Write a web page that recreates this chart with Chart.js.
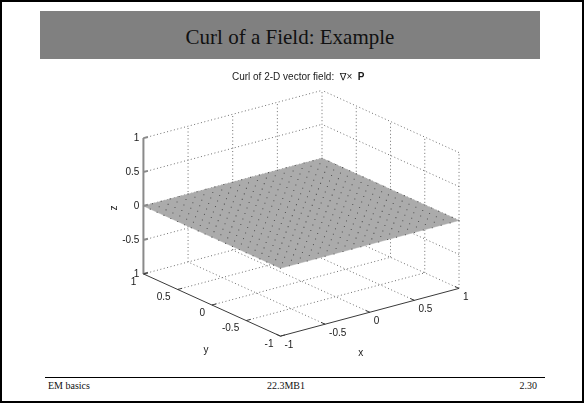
<!DOCTYPE html>
<html>
<head>
<meta charset="utf-8">
<script src="https://cdn.jsdelivr.net/npm/chart.js@4/dist/chart.umd.min.js"></script>
<style>
  html, body { margin: 0; padding: 0; background: #fff; }
  .abs { position: absolute; }
  #frame { left: 0; top: 0; width: 584px; height: 403px; box-sizing: border-box; border: 2px solid #000; }
  #head { left: 40px; top: 11px; width: 500px; height: 48px; background: #808080; color: #111;
          font: 21px "Liberation Serif", "Times New Roman", serif; text-align: center;
          line-height: 48px; padding-top: 2px; box-sizing: border-box; }
  #rule { left: 45px; top: 377px; width: 500px; height: 1px; background: #000; }
  .foot { top: 380px; font: 10px "Liberation Serif", "Times New Roman", serif; line-height: 12px; color: #111; }
  #plot { left: 0; top: 0; }
</style>
</head>
<body>
<div id="frame" class="abs"></div>
<div id="head" class="abs">Curl of a Field: Example</div>
<div id="rule" class="abs"></div>
<div class="abs foot" style="left:48px">EM basics</div>
<div class="abs foot" style="left:186px;width:200px;text-align:center">22.3MB1</div>
<div class="abs foot" style="left:437px;width:100px;text-align:right">2.30</div>
<canvas id="plot" class="abs" width="584" height="403"></canvas>
<script>
// MATLAB default 3-D view
const viewAz = -37.5;
const viewEl = 30;

// surface grid (meshgrid -1:0.1:1) and the curl values on it
const gridVals = [-1, -0.9, -0.8, -0.7, -0.6, -0.5, -0.4, -0.3, -0.2, -0.1, 0,
                  0.1, 0.2, 0.3, 0.4, 0.5, 0.6, 0.7, 0.8, 0.9, 1];
const curlZ = [
  [0,0,0,0,0,0,0,0,0,0,0,0,0,0,0,0,0,0,0,0,0],
  [0,0,0,0,0,0,0,0,0,0,0,0,0,0,0,0,0,0,0,0,0],
  [0,0,0,0,0,0,0,0,0,0,0,0,0,0,0,0,0,0,0,0,0],
  [0,0,0,0,0,0,0,0,0,0,0,0,0,0,0,0,0,0,0,0,0],
  [0,0,0,0,0,0,0,0,0,0,0,0,0,0,0,0,0,0,0,0,0],
  [0,0,0,0,0,0,0,0,0,0,0,0,0,0,0,0,0,0,0,0,0],
  [0,0,0,0,0,0,0,0,0,0,0,0,0,0,0,0,0,0,0,0,0],
  [0,0,0,0,0,0,0,0,0,0,0,0,0,0,0,0,0,0,0,0,0],
  [0,0,0,0,0,0,0,0,0,0,0,0,0,0,0,0,0,0,0,0,0],
  [0,0,0,0,0,0,0,0,0,0,0,0,0,0,0,0,0,0,0,0,0],
  [0,0,0,0,0,0,0,0,0,0,0,0,0,0,0,0,0,0,0,0,0],
  [0,0,0,0,0,0,0,0,0,0,0,0,0,0,0,0,0,0,0,0,0],
  [0,0,0,0,0,0,0,0,0,0,0,0,0,0,0,0,0,0,0,0,0],
  [0,0,0,0,0,0,0,0,0,0,0,0,0,0,0,0,0,0,0,0,0],
  [0,0,0,0,0,0,0,0,0,0,0,0,0,0,0,0,0,0,0,0,0],
  [0,0,0,0,0,0,0,0,0,0,0,0,0,0,0,0,0,0,0,0,0],
  [0,0,0,0,0,0,0,0,0,0,0,0,0,0,0,0,0,0,0,0,0],
  [0,0,0,0,0,0,0,0,0,0,0,0,0,0,0,0,0,0,0,0,0],
  [0,0,0,0,0,0,0,0,0,0,0,0,0,0,0,0,0,0,0,0,0],
  [0,0,0,0,0,0,0,0,0,0,0,0,0,0,0,0,0,0,0,0,0],
  [0,0,0,0,0,0,0,0,0,0,0,0,0,0,0,0,0,0,0,0,0],
];

// axis ticks
const xTicks = [-1, -0.5, 0, 0.5, 1];
const yTicks = [-1, -0.5, 0, 0.5, 1];
const zTicks = [-1, -0.5, 0, 0.5, 1];
const xTickLabels = ['-1', '-0.5', '0', '0.5', '1'];
const yTickLabels = ['-1', '-0.5', '0', '0.5', '1'];
const zTickLabels = ['1', '-0.5', '0', '0.5', '1'];  // bottom one reads "1" in the original

const rad = Math.PI / 180;
function project(x, y, z) {
  const a = viewAz * rad, e = viewEl * rad;
  return {
    x: x * Math.cos(a) + y * Math.sin(a),
    y: -x * Math.sin(a) * Math.sin(e) + y * Math.cos(a) * Math.sin(e) + z * Math.cos(e),
  };
}

// list of 3-D segments -> one polyline with gaps
function segments(list) {
  const out = [];
  list.forEach(([p, q]) => {
    out.push(project(...p), project(...q), { x: null, y: null });
  });
  return out;
}

const lo = -1, hi = 1;

// dotted grid on the back walls and the floor
const gridSegs = [];
xTicks.forEach((t) => {
  if (t !== lo) {
    gridSegs.push([[t, hi, lo], [t, hi, hi]]);   // wall y = 1
    gridSegs.push([[t, lo, lo], [t, hi, lo]]);   // floor
  }
});
yTicks.forEach((t) => {
  if (t !== hi) gridSegs.push([[hi, t, lo], [hi, t, hi]]);  // wall x = 1
  if (t !== lo) gridSegs.push([[lo, t, lo], [hi, t, lo]]);  // floor
});
zTicks.forEach((t) => {
  if (t !== lo) {
    gridSegs.push([[lo, hi, t], [hi, hi, t]]);
    gridSegs.push([[hi, lo, t], [hi, hi, t]]);
  }
});

// surface outline and mesh vertices
const n = gridVals.length - 1;
const surfOutline = [
  project(gridVals[0], gridVals[0], curlZ[0][0]),
  project(gridVals[n], gridVals[0], curlZ[0][n]),
  project(gridVals[n], gridVals[n], curlZ[n][n]),
  project(gridVals[0], gridVals[n], curlZ[n][0]),
  project(gridVals[0], gridVals[0], curlZ[0][0]),
];
const meshPts = [];
gridVals.forEach((gy, i) => {
  gridVals.forEach((gx, j) => meshPts.push(project(gx, gy, curlZ[i][j])));
});

// solid axes with their tick marks
const zAxis = segments([
  [[lo, hi, lo], [lo, hi, hi]],
  ...zTicks.map((t) => [[lo, hi, t], [lo + 0.05, hi, t]]),
]);
const xyAxes = segments([
  [[lo, hi, lo], [lo, lo, lo]],
  [[lo, lo, lo], [hi, lo, lo]],
  ...yTicks.map((t) => [[lo, t, lo], [lo + 0.05, t, lo]]),
  ...xTicks.map((t) => [[t, lo, lo], [t, lo + 0.06, lo]]),
]);

const labelFont = '10px "Liberation Sans", Arial, "DejaVu Sans", sans-serif';

const axisText = {
  id: 'axisText',
  afterDatasetsDraw(chart) {
    const { ctx } = chart;
    const sx = chart.scales.x, sy = chart.scales.y;
    const px = (p) => [sx.getPixelForValue(p.x), sy.getPixelForValue(p.y)];
    ctx.save();
    ctx.fillStyle = '#1a1a1a';
    ctx.font = labelFont;
    ctx.textBaseline = 'middle';

    ctx.textAlign = 'right';
    zTicks.forEach((t, i) => {
      const [x, y] = px(project(lo, hi, t));
      ctx.fillText(zTickLabels[i], x - 4, y);
    });
    yTicks.forEach((t, i) => {
      const [x, y] = px(project(lo, t, lo));
      ctx.fillText(yTickLabels[i], x - 7, y + 8);
    });
    ctx.textAlign = 'left';
    xTicks.forEach((t, i) => {
      const [x, y] = px(project(t, lo, lo));
      ctx.fillText(xTickLabels[i], x + 4, y + 9);
    });

    ctx.textAlign = 'center';
    let [ax, ay] = px(project(0, lo, lo));
    ctx.fillText('x', ax - 9, ay + 41);
    [ax, ay] = px(project(lo, 0, lo));
    ctx.fillText('y', ax - 6, ay + 45);
    [ax, ay] = px(project(lo, hi, 0));
    ctx.save();
    ctx.translate(ax - 29, ay + 2);
    ctx.rotate(-Math.PI / 2);
    ctx.fillText('z', 0, 0);
    ctx.restore();

    // plot title: "Curl of 2-D vector field:  ∇×  P" (P bold)
    const plain = 'Curl of 2-D vector field:  \u2207\u00d7  ';
    const boldFont = 'bold ' + labelFont;
    ctx.font = labelFont;
    const w1 = ctx.measureText(plain).width;
    ctx.font = boldFont;
    const w2 = ctx.measureText('P').width;
    const [tx] = px(project(0, 0, 0));
    const left = tx - 3 - (w1 + w2) / 2;
    ctx.textAlign = 'left';
    ctx.font = labelFont;
    ctx.fillText(plain, left, 77);
    ctx.font = boldFont;
    ctx.fillText('P', left + w1, 77);
    ctx.restore();
  },
};

new Chart(document.getElementById('plot'), {
  type: 'scatter',
  data: {
    datasets: [
      {
        label: 'axes',
        data: xyAxes,
        showLine: true,
        spanGaps: false,
        borderColor: '#3a3a3a',
        borderWidth: 1,
        pointRadius: 0,
        order: 1,
      },
      {
        label: 'z axis',
        data: zAxis,
        showLine: true,
        spanGaps: false,
        borderColor: '#8a8a8a',
        borderWidth: 2,
        pointRadius: 0,
        order: 2,
      },
      {
        label: 'mesh',
        data: meshPts,
        pointStyle: 'rect',
        pointRadius: 0.75,
        pointBackgroundColor: '#575757',
        pointBorderWidth: 0,
        order: 3,
      },
      {
        label: 'surface',
        data: surfOutline,
        showLine: true,
        fill: 'shape',
        backgroundColor: '#ababab',
        borderColor: '#b0b0b0',
        borderWidth: 0.5,
        pointRadius: 0,
        order: 4,
      },
      {
        label: 'grid',
        data: segments(gridSegs),
        showLine: true,
        spanGaps: false,
        borderColor: '#6e6e6e',
        borderWidth: 1,
        borderDash: [1, 2.5],
        pointRadius: 0,
        order: 5,
      },
    ],
  },
  options: {
    responsive: false,
    animation: false,
    events: [],
    layout: { padding: 0 },
    plugins: {
      legend: { display: false },
      tooltip: { enabled: false },
      title: { display: false },
    },
    scales: {
      x: { type: 'linear', display: false, min: -2.641, max: 2.477 },
      y: { type: 'linear', display: false, min: -2.369, max: 2.669 },
    },
  },
  plugins: [axisText],
});
</script>
</body>
</html>
